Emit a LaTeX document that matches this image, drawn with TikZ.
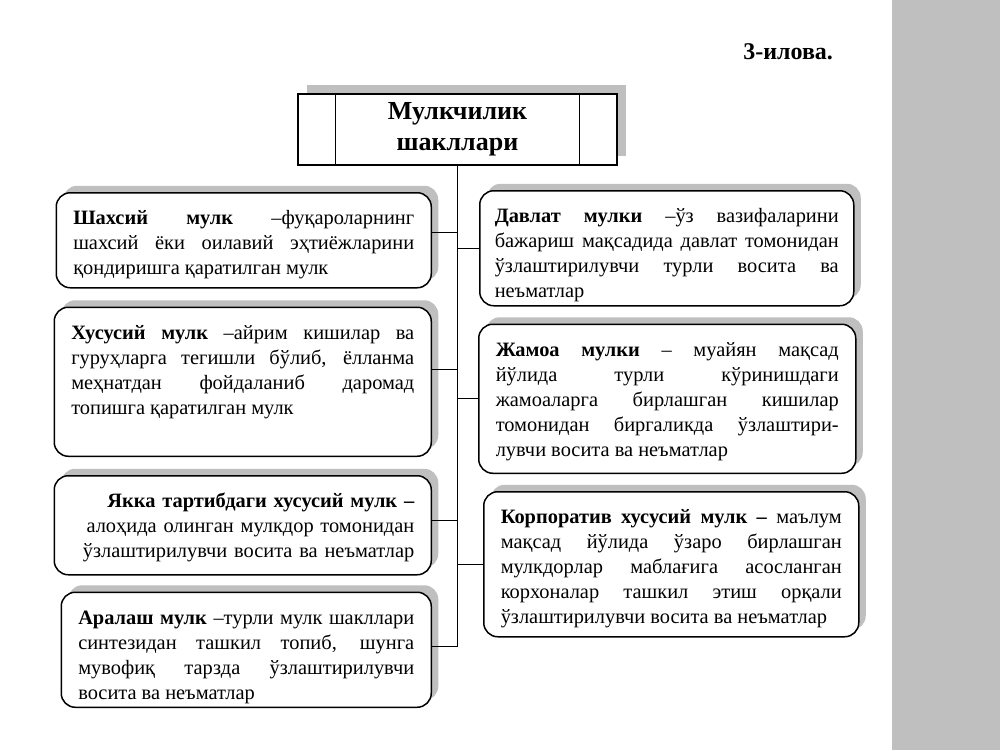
\documentclass[tikz,border=0pt]{standalone}
\usepackage{fontspec}
\setmainfont{Liberation Serif}
\usetikzlibrary{positioning,shadows}

\tikzset{
  kind/.style={draw, line width=0.75pt, rounded corners=7pt, fill=white, inner xsep=8.5pt, inner ysep=0pt,
    align=justify, text height=16pt, font=\fontsize{10.2pt}{12.5pt}\selectfont,
    drop shadow={shadow xshift=3.5pt, shadow yshift=3.5pt, fill=black!25, opacity=1}},
  head/.style={draw, line width=1.2pt, fill=white, minimum width=159.5pt, minimum height=35.5pt, inner sep=0pt,
    align=center, font=\bfseries\fontsize{13pt}{15.5pt}\selectfont,
    drop shadow={shadow xshift=4.5pt, shadow yshift=4.5pt, fill=black!25, opacity=1}},
  link/.style={line width=0.6pt}
}

\begin{document}
\begin{tikzpicture}[x=0.5pt, y=-0.5pt]
  \useasboundingbox (0,0) rectangle (1000,750);
  \fill[black!25] (892,0) rectangle (1000,750);

  \node[font=\bfseries\fontsize{12pt}{14pt}\selectfont, anchor=east] (note) at (840,52) {3-илова.};

  \node[head] (title) at (457.5,129.5) {Мулкчилик\\шакллари};
  \draw[line width=0.6pt] ([xshift=19.5pt]title.north west) -- ([xshift=19.5pt]title.south west)
    ([xshift=-19.5pt]title.north east) -- ([xshift=-19.5pt]title.south east);

  % left column
  \node[kind, text width=170.5pt, text depth=31.5pt, anchor=north east] (L1) at (432,192)
    {\textbf{Шахсий мулк} –фуқароларнинг\linebreak шахсий ёки оилавий эҳтиёжларини\linebreak қондиришга қаратилган мулк};
  \node[kind, text width=171.5pt, text depth=58.5pt, below=9pt of L1.south east, anchor=north east] (L2)
    {\textbf{Хусусий мулк} –айрим кишилар ва\linebreak гуруҳларга тегишли бўлиб, ёлланма\linebreak меҳнатдан фойдаланиб даромад\linebreak топишга қаратилган мулк};
  \node[kind, text width=171.5pt, text depth=33.5pt, align=right, below=9pt of L2.south east, anchor=north east] (L3)
    {\textbf{Якка тартибдаги хусусий мулк –}\\ алоҳида олинган мулкдор томонидан\\ ўзлаштирилувчи восита ва неъматлар};
  \node[kind, text width=168pt, text depth=41.5pt, below=8pt of L3.south east, anchor=north east] (L4)
    {\textbf{Аралаш мулк} –турли мулк шакллари\linebreak синтезидан ташкил топиб, шунга\linebreak мувофиқ тарзда ўзлаштирилувчи\linebreak восита ва неъматлар};

  % right column
  \node[kind, text width=172pt, inner xsep=7.5pt, text depth=41.5pt, anchor=north west] (R1) at (479,190)
    {\textbf{Давлат мулки} –ўз вазифаларини\linebreak бажариш мақсадида давлат томонидан\linebreak ўзлаштирилувчи турли восита ва\linebreak неъматлар};
  \node[kind, text width=171.5pt, text depth=58.5pt, below=8.5pt of R1.south west, anchor=north west, xshift=-0.5pt] (R2)
    {\textbf{Жамоа мулки} – муайян мақсад\linebreak йўлида турли кўринишдаги\linebreak жамоаларга бирлашган кишилар\linebreak томонидан биргаликда ўзлаштири-\linebreak лувчи восита ва неъматлар};
  \node[kind, text width=170.5pt, text depth=56.5pt, below=8.5pt of R2.south west, anchor=north west, xshift=2.5pt] (R3)
    {\textbf{Корпоратив хусусий мулк –} маълум\linebreak мақсад йўлида ўзаро бирлашган\linebreak мулкдорлар маблағига асосланган\linebreak корхоналар ташкил этиш орқали\linebreak ўзлаштирилувчи восита ва неъматлар};

  \coordinate (l1) at ([yshift=4pt]L1.east);
  \coordinate (l2) at ([yshift=6pt]L2.east);
  \coordinate (l3) at ([yshift=2.5pt]L3.east);
  \coordinate (l4) at ([yshift=1.5pt]L4.east);

  \path[link] (title.south) edge (title.south |- l4)
    (l1) edge (l1 -| title.south)
    (l2) edge (l2 -| title.south)
    (l3) edge (l3 -| title.south)
    (l4) edge (l4 -| title.south)
    (R1.west) edge (R1.west -| title.south)
    (R2.west) edge (R2.west -| title.south)
    (R3.west) edge (R3.west -| title.south);
\end{tikzpicture}
\end{document}
